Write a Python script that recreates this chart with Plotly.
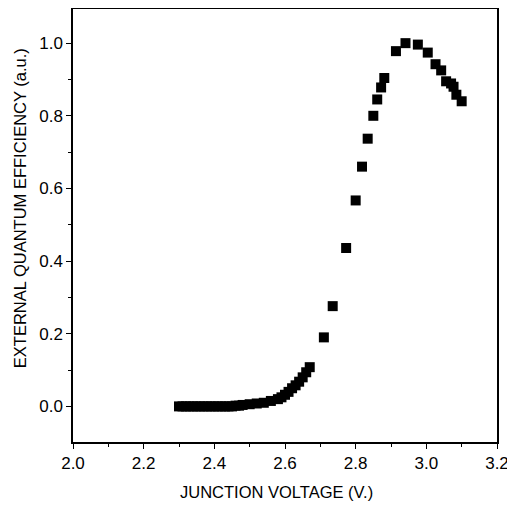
import plotly.graph_objects as go

voltage = [2.30, 2.31, 2.32, 2.33, 2.34, 2.35, 2.36, 2.37, 2.38, 2.39, 2.40,
           2.41, 2.42, 2.43, 2.44, 2.45, 2.46, 2.47, 2.48, 2.50, 2.52, 2.54,
           2.56, 2.58, 2.59, 2.60, 2.61, 2.62, 2.63, 2.64, 2.65, 2.66, 2.67,
           2.71, 2.735, 2.773, 2.80, 2.818, 2.834, 2.85, 2.861, 2.872, 2.881,
           2.914, 2.941, 2.976, 3.004, 3.026, 3.042, 3.056, 3.07, 3.077,
           3.085, 3.10]
eqe = [0.0, 0.0, 0.0, 0.0, 0.0, 0.0, 0.0, 0.0, 0.0, 0.0, 0.0,
       0.0, 0.0, 0.0, 0.0, 0.0, 0.002, 0.002, 0.004, 0.006, 0.008, 0.01,
       0.015, 0.02, 0.025, 0.032, 0.04, 0.05, 0.058, 0.068, 0.08, 0.094, 0.108,
       0.19, 0.276, 0.436, 0.567, 0.66, 0.737, 0.8, 0.845, 0.878, 0.904,
       0.978, 1.0, 0.996, 0.974, 0.942, 0.925, 0.895, 0.889, 0.88,
       0.858, 0.84]

x_ticks = [2.0, 2.2, 2.4, 2.6, 2.8, 3.0, 3.2]
x_tick_labels = ["2.0", "2.2", "2.4", "2.6", "2.8", "3.0", "3.2"]
y_ticks = [0.0, 0.2, 0.4, 0.6, 0.8, 1.0]
y_tick_labels = ["0.0", "0.2", "0.4", "0.6", "0.8", "1.0"]
x_title = "JUNCTION VOLTAGE (V.)"
y_title = "EXTERNAL QUANTUM EFFICIENCY (a.u.)"

font = "Liberation Sans, Arial, sans-serif"

fig = go.Figure()
fig.add_trace(go.Scatter(
    x=voltage, y=eqe, mode="markers",
    marker=dict(symbol="square", size=10, color="black", line=dict(width=0)),
    showlegend=False, cliponaxis=False,
))

# the page places the figure 8px in from the top-left corner
fig.update_layout(
    width=507, height=498,
    margin=dict(l=65, r=18, t=1, b=64),
    paper_bgcolor="white", plot_bgcolor="white",
    font=dict(family=font, size=15, color="black"),
    annotations=[
        dict(text=x_title, xref="paper", yref="paper", x=0.48, y=0,
             xanchor="center", yanchor="middle", yshift=-50, showarrow=False,
             font=dict(size=16.5)),
        dict(text=y_title, xref="paper", yref="paper", x=0, y=0.54,
             xanchor="center", yanchor="middle", xshift=-53, showarrow=False,
             textangle=-90, font=dict(size=16.5)),
    ],
)
fig.update_xaxes(
    range=[2.0, 3.2], tickvals=x_ticks, ticktext=x_tick_labels,
    showline=True, linecolor="black", linewidth=1.5, mirror=True,
    ticks="outside", ticklen=5, tickwidth=1.2, tickcolor="black",
    minor=dict(dtick=0.1, ticks="outside", ticklen=3, tickcolor="black", tickwidth=1),
    showgrid=False, zeroline=False, automargin=False,
    tickfont=dict(size=17),
)
fig.update_yaxes(
    range=[-0.098, 1.094], tickvals=y_ticks, ticktext=y_tick_labels,
    showline=True, linecolor="black", linewidth=1.5, mirror=True,
    ticks="outside", ticklen=5, tickwidth=1.2, tickcolor="black",
    minor=dict(dtick=0.1, ticks="outside", ticklen=3, tickcolor="black", tickwidth=1),
    showgrid=False, zeroline=False, automargin=False,
    tickfont=dict(size=17),
)

fig.write_html("out.html")
